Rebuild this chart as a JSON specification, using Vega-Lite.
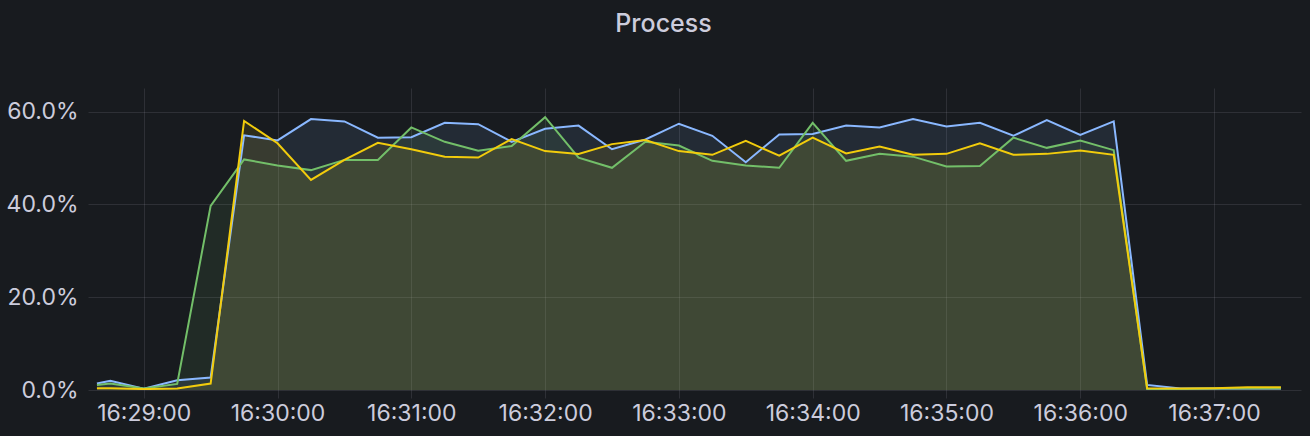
{
  "$schema": "https://vega.github.io/schema/vega-lite/v6.json",
  "width": 1213,
  "height": 302,
  "autosize": {"type": "none"},
  "padding": {"left": 88, "top": 88, "right": 9, "bottom": 46},
  "background": "#181b1f",
  "title": {"text": "Process", "font": "Inter", "fontSize": 25, "fontWeight": 500, "color": "#ccccdc", "anchor": "middle", "frame": "group", "dx": -31, "baseline": "alphabetic", "offset": 31},
  "config": {
    "view": {"stroke": null},
    "axis": {"labelFont": "Inter", "labelFontSize": 23, "labelColor": "#ccccdc", "gridColor": "#ccccdc", "gridOpacity": 0.12, "domain": false, "tickColor": "#ccccdc", "tickOpacity": 0.12}
  },
  "datasets": {
    "rows": [
      {"t": "2024-01-01T16:28:39", "blue": 1.4, "green": 1.1, "yellow": 0.4},
      {"t": "2024-01-01T16:28:45", "blue": 2.0, "green": 1.4, "yellow": 0.4},
      {"t": "2024-01-01T16:29:00", "blue": 0.3, "green": 0.3, "yellow": 0.2},
      {"t": "2024-01-01T16:29:15", "blue": 2.1, "green": 1.3, "yellow": 0.3},
      {"t": "2024-01-01T16:29:30", "blue": 2.7, "green": 39.7, "yellow": 1.4},
      {"t": "2024-01-01T16:29:45", "blue": 54.9, "green": 49.7, "yellow": 58.0},
      {"t": "2024-01-01T16:30:00", "blue": 53.8, "green": 48.4, "yellow": 53.2},
      {"t": "2024-01-01T16:30:15", "blue": 58.4, "green": 47.4, "yellow": 45.3},
      {"t": "2024-01-01T16:30:30", "blue": 57.9, "green": 49.6, "yellow": 49.6},
      {"t": "2024-01-01T16:30:45", "blue": 54.4, "green": 49.6, "yellow": 53.3},
      {"t": "2024-01-01T16:31:00", "blue": 54.5, "green": 56.6, "yellow": 51.9},
      {"t": "2024-01-01T16:31:15", "blue": 57.6, "green": 53.5, "yellow": 50.3},
      {"t": "2024-01-01T16:31:30", "blue": 57.3, "green": 51.6, "yellow": 50.1},
      {"t": "2024-01-01T16:31:45", "blue": 53.5, "green": 52.6, "yellow": 54.1},
      {"t": "2024-01-01T16:32:00", "blue": 56.3, "green": 58.8, "yellow": 51.5},
      {"t": "2024-01-01T16:32:15", "blue": 57.0, "green": 50.1, "yellow": 50.9},
      {"t": "2024-01-01T16:32:30", "blue": 51.9, "green": 47.9, "yellow": 53.0},
      {"t": "2024-01-01T16:32:45", "blue": 54.0, "green": 53.5, "yellow": 53.9},
      {"t": "2024-01-01T16:33:00", "blue": 57.4, "green": 52.7, "yellow": 51.5},
      {"t": "2024-01-01T16:33:15", "blue": 54.8, "green": 49.4, "yellow": 50.7},
      {"t": "2024-01-01T16:33:30", "blue": 49.1, "green": 48.4, "yellow": 53.7},
      {"t": "2024-01-01T16:33:45", "blue": 55.1, "green": 47.9, "yellow": 50.5},
      {"t": "2024-01-01T16:34:00", "blue": 55.2, "green": 57.6, "yellow": 54.4},
      {"t": "2024-01-01T16:34:15", "blue": 57.0, "green": 49.4, "yellow": 51.0},
      {"t": "2024-01-01T16:34:30", "blue": 56.6, "green": 50.9, "yellow": 52.5},
      {"t": "2024-01-01T16:34:45", "blue": 58.4, "green": 50.3, "yellow": 50.7},
      {"t": "2024-01-01T16:35:00", "blue": 56.8, "green": 48.2, "yellow": 50.9},
      {"t": "2024-01-01T16:35:15", "blue": 57.6, "green": 48.3, "yellow": 53.2},
      {"t": "2024-01-01T16:35:30", "blue": 54.8, "green": 54.4, "yellow": 50.7},
      {"t": "2024-01-01T16:35:45", "blue": 58.2, "green": 52.2, "yellow": 50.9},
      {"t": "2024-01-01T16:36:00", "blue": 55.0, "green": 53.8, "yellow": 51.6},
      {"t": "2024-01-01T16:36:15", "blue": 57.9, "green": 51.7, "yellow": 50.7},
      {"t": "2024-01-01T16:36:30", "blue": 1.1, "green": 0.15, "yellow": 0.4},
      {"t": "2024-01-01T16:36:45", "blue": 0.3, "green": 0.2, "yellow": 0.3},
      {"t": "2024-01-01T16:37:00", "blue": 0.3, "green": 0.3, "yellow": 0.4},
      {"t": "2024-01-01T16:37:15", "blue": 0.3, "green": 0.4, "yellow": 0.6},
      {"t": "2024-01-01T16:37:30", "blue": 0.3, "green": 0.4, "yellow": 0.6}
    ]
  },
  "data": {"name": "rows"},
  "transform": [
    {"fold": ["blue", "green", "yellow"], "as": ["series", "pct"]},
    {"calculate": "datum.pct / 100", "as": "v"}
  ],
  "encoding": {
    "x": {
      "field": "t", "type": "temporal", "title": null,
      "scale": {"domain": [{"year": 2024, "month": 1, "date": 1, "hours": 16, "minutes": 28, "seconds": 35}, {"year": 2024, "month": 1, "date": 1, "hours": 16, "minutes": 37, "seconds": 39}], "nice": false},
      "axis": {"format": "%H:%M:%S", "tickCount": 10, "tickSize": 8, "labelPadding": 4, "labelFlush": false}
    },
    "y": {
      "field": "v", "type": "quantitative", "title": null, "stack": null,
      "scale": {"domain": [0, 0.651], "nice": false, "zero": true},
      "axis": {"format": ".1%", "values": [0, 0.2, 0.4, 0.6], "ticks": false, "labelPadding": 10}
    },
    "color": {
      "field": "series", "type": "nominal", "legend": null,
      "scale": {"domain": ["blue", "green", "yellow"], "range": ["#8ab8ff", "#73bf69", "#f2cc0c"]}
    }
  },
  "layer": [
    {"mark": {"type": "area", "fillOpacity": 0.1, "clip": true}},
    {"mark": {"type": "line", "strokeWidth": 2, "clip": true}}
  ]
}
